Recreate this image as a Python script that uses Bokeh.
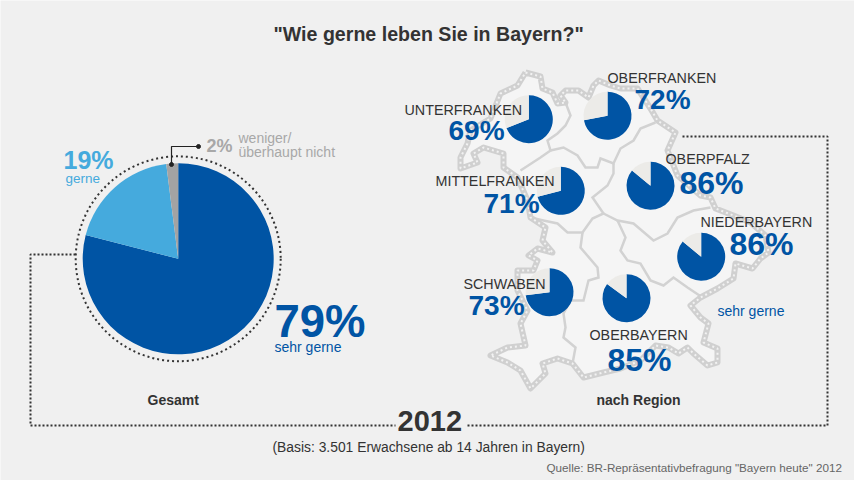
import math
from bokeh.plotting import figure
from bokeh.models import Range1d
from bokeh.core.properties import value
from bokeh.embed import file_html
from bokeh.resources import INLINE

# ---- data ----
total_labels = ["sehr gerne", "gerne", "weniger/überhaupt nicht"]
total_values = [79, 19, 2]
regions = ["UNTERFRANKEN", "OBERFRANKEN", "OBERPFALZ", "MITTELFRANKEN", "NIEDERBAYERN", "SCHWABEN", "OBERBAYERN"]
region_values = [69, 72, 86, 71, 86, 73, 85]

# ---- layout (picture pixels) ----
W, H = 854, 480
OX, OY = 0, 0
BG, BLUE, LIGHT, GREY, REST, DARK = "#f0f0f0", "#0054a4", "#45aadd", "#a3a3a3", "#ecebe8", "#333333"
FONT = value("Liberation Sans")
BASE_K = 0.38


def Y(py):
    return 480 - py


def xs(pts):
    return [a for a, _ in pts]


def ys(pts):
    return [Y(b) for _, b in pts]


outline = [(525, 72), (540, 76), (542, 88), (552, 92), (557, 103), (565, 102), (560, 95), (565, 90), (578, 90), (588, 97),
           (593, 85), (598, 80), (610, 85), (620, 88), (637, 88), (650, 108), (657, 120), (675, 132), (667, 150),
           (677, 175), (700, 195), (710, 197), (715, 208), (733, 215), (750, 222), (765, 235), (768, 252), (760, 258),
           (752, 268), (735, 263), (733, 278), (717, 288), (700, 297), (690, 305), (700, 317), (708, 323), (703, 342),
           (717, 348), (717, 362), (707, 365), (693, 353), (687, 347), (678, 353), (668, 347), (655, 345), (640, 360),
           (620, 368), (603, 372), (583, 377), (572, 363), (557, 358), (542, 363), (545, 373), (530, 388), (520, 370),
           (507, 362), (490, 355), (507, 347), (525, 345), (520, 323), (527, 310), (517, 290), (517, 270), (533, 270),
           (537, 260), (528, 255), (537, 248), (552, 252), (542, 240), (545, 227), (530, 217), (527, 200), (517, 177),
           (503, 167), (503, 153), (483, 147), (473, 153), (477, 162), (460, 168), (460, 157), (467, 143), (470, 130),
           (490, 118), (500, 93), (517, 85)]
border_a = [(565, 102), (570, 115), (565, 125), (557, 133), (547, 140), (550, 150), (540, 157), (520, 170)]
border_b = [(550, 150), (563, 147), (577, 155), (585, 167), (597, 167), (600, 158), (613, 163), (620, 148), (633, 140),
            (640, 128), (655, 122)]
border_c = [(613, 163), (613, 173), (607, 185), (592, 197), (603, 213), (592, 218), (582, 232), (567, 232), (557, 223),
            (543, 220), (530, 217)]
border_d = [(603, 213), (617, 220), (633, 223), (653, 240), (667, 233), (677, 217), (693, 210), (710, 207)]
border_e = [(617, 220), (625, 237), (620, 250), (627, 260), (640, 263), (650, 280), (663, 285), (673, 277), (687, 287),
            (702, 297)]
border_f = [(582, 232), (580, 247), (597, 267), (598, 277), (588, 280), (583, 300), (570, 300), (563, 313), (565, 327),
            (563, 337), (575, 347), (572, 363)]
frame_left = [(75, 254), (30, 254), (30, 425), (395, 425)]
frame_right = [(467, 425), (827, 425), (827, 136), (680, 136)]
leader = [(171, 164), (171, 146), (198, 146)]
pie_xy = (177.7, 258.3)
pie_r = 95.5
small_xy = [(528.3, 118.7), (607, 115.3), (650, 185.3), (560.3, 190.3), (700.7, 256.3), (549, 291.7), (626, 297.7)]
small_r = 24

p = figure(width=W, height=H, x_range=Range1d(OX, OX + W), y_range=Range1d(Y(OY + H), Y(OY)),
           toolbar_location=None, output_backend="svg", min_border=0,
           background_fill_color=BG, border_fill_color=BG, outline_line_color=None,
           x_axis_location=None, y_axis_location=None)
p.grid.visible = False

# map
p.patch(xs(outline) + [outline[0][0]], ys(outline) + [Y(outline[0][1])], fill_color="#f5f5f5", line_color=None)
for b in [border_a, border_b, border_c, border_d, border_e, border_f]:
    p.line(xs(b), ys(b), line_color="#d2d2d2", line_width=2.5, line_join="miter")
closed = outline + [outline[0]]
p.line(xs(closed), ys(closed), line_color="#d0d0d0", line_width=6, line_join="round")
p.line(xs(closed), ys(closed), line_color="#f2f2f2", line_width=2, line_dash="2 3")

# frame
for f in [frame_left, frame_right]:
    p.line(xs(f), ys(f), line_color=DARK, line_width=2, line_dash="2 2")
p.circle([pie_xy[0]], [Y(pie_xy[1])], radius=102.5, fill_color=None, line_color=DARK, line_width=2, line_dash="2 3")

# main pie
top = math.pi / 2
start = top
for v, c in zip(total_values, [BLUE, LIGHT, GREY]):
    end = start - 2 * math.pi * v / sum(total_values)
    p.wedge([pie_xy[0]], [Y(pie_xy[1])], radius=pie_r, start_angle=start, end_angle=end, direction="clock",
            fill_color=c, line_color=None)
    start = end

# leader
p.line(xs(leader), ys(leader), line_color="#222222", line_width=1.2)
p.scatter([leader[0][0], leader[-1][0]], [Y(leader[0][1]), Y(leader[-1][1])], size=4, color="#222222")

# region pies
for (cx, cy), v in zip(small_xy, region_values):
    end = top - 2 * math.pi * v / 100
    p.wedge([cx], [Y(cy)], radius=small_r, start_angle=top, end_angle=end, direction="clock",
            fill_color=BLUE, line_color=None)
    p.wedge([cx], [Y(cy)], radius=small_r, start_angle=end, end_angle=top, direction="clock",
            fill_color=REST, line_color=None)


def label(x, y, s, size, color=DARK, bold=False):
    p.text([x], [Y(y - BASE_K * size)], text=[s], text_font=FONT, text_font_size=f"{size}px", text_color=color,
           text_font_style="bold" if bold else "normal", text_align="left", text_baseline="alphabetic")


label(273, 41, '"Wie gerne leben Sie in Bayern?"', 19.6, DARK, True)
label(274, 338, f"{total_values[0]}%", 45.5, BLUE, True)
label(274, 352, total_labels[0], 14, BLUE)
label(63, 169, f"{total_values[1]}%", 25, LIGHT, True)
label(65, 183, total_labels[1], 13.5, LIGHT)
label(206, 152, f"{total_values[2]}%", 18, "#a8a8a8", True)
label(238, 143, "weniger/", 14, "#a8a8a8")
label(238, 157, "überhaupt nicht", 14, "#a8a8a8")
label(147, 405, "Gesamt", 14, DARK, True)
label(596, 405, "nach Region", 14, DARK, True)
label(397, 432, "2012", 29, DARK, True)
label(272, 452, "(Basis: 3.501 Erwachsene ab 14 Jahren in Bayern)", 13.85, DARK)
label(546, 471, 'Quelle: BR-Repräsentativbefragung "Bayern heute" 2012', 11.7, "#666666")
label(717, 316, "sehr gerne", 14, BLUE)

name_pos = [(404, 115), (607, 83), (665, 164), (435, 186), (700, 227), (463, 289), (589, 340)]
val_pos = [(448, 141), (634, 110), (679, 195), (483, 214), (729, 256), (468, 316), (607, 372)]
val_size = [28, 28, 32, 28, 32, 28, 32]
for n, v, np_, vp, s in zip(regions, region_values, name_pos, val_pos, val_size):
    label(np_[0], np_[1], n, 14.3, DARK)
    label(vp[0], vp[1], f"{v}%", s, BLUE, True)

open("out.html", "w").write(file_html(p, INLINE))
